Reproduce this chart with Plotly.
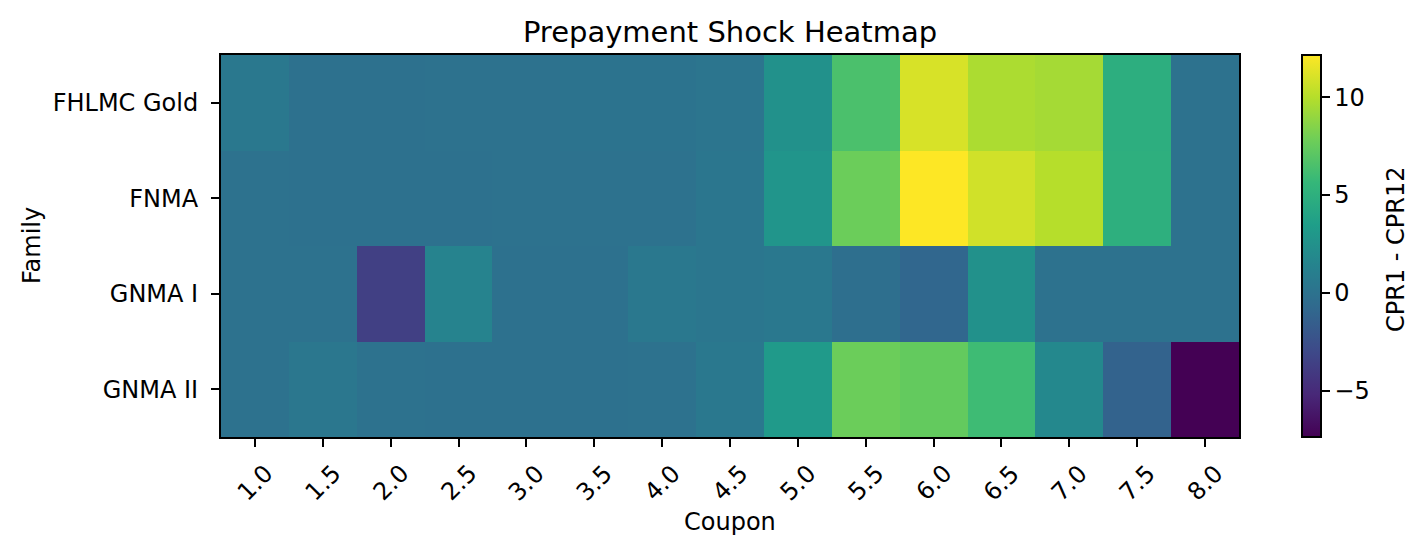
import plotly.graph_objects as go

coupons = ["1.0", "1.5", "2.0", "2.5", "3.0", "3.5", "4.0", "4.5", "5.0", "5.5", "6.0", "6.5", "7.0", "7.5", "8.0"]
families = ["FHLMC Gold", "FNMA", "GNMA I", "GNMA II"]

fhlmc_gold = [0.5, -0.1, -0.1, 0.0, 0.0, 0.1, 0.1, 0.2, 2.5, 6.5, 11.0, 9.7, 9.5, 4.9, 0.0]
fnma = [0.0, -0.1, -0.1, -0.1, 0.0, 0.0, 0.0, 0.3, 2.8, 7.7, 12.15, 10.8, 10.0, 5.0, 0.0]
gnma_i = [0.0, 0.0, -3.6, 1.4, -0.1, -0.1, 0.5, 0.3, 0.5, -0.3, -0.9, 2.5, 0.0, 0.0, 0.0]
gnma_ii = [0.0, 0.4, 0.0, -0.1, -0.1, -0.1, 0.0, 0.5, 3.2, 7.7, 7.4, 6.0, 1.8, -1.2, -7.35]

z = [fhlmc_gold, fnma, gnma_i, gnma_ii]

font = "DejaVu Sans"
FS = 24
fig = go.Figure(go.Heatmap(
    z=z, x=coupons, y=families,
    colorscale="Viridis", zmin=-7.35, zmax=12.15,
    colorbar=dict(
        x=1.0619, xanchor="left", y=0.5, yanchor="middle", len=1, lenmode="fraction",
        thickness=19, xpad=0, ypad=0, outlinewidth=2, outlinecolor="black",
        ticks="outside", ticklen=8, tickwidth=2, tickcolor="black",
        tickvals=[-5, 0, 5, 10], tickfont=dict(size=FS, family=font, color="black"),
    ),
))

annotations = []
for i, c in enumerate(coupons):
    annotations.append(dict(
        x=i, xref="x", y=0, yref="paper", yshift=-21,
        text=c, textangle=-45, showarrow=False, xanchor="center", yanchor="top",
        borderpad=0, font=dict(size=FS, family=font, color="black"),
    ))
annotations.append(dict(
    x=0.5, xref="paper", y=0, yref="paper", yshift=-85,
    text="Coupon", showarrow=False, xanchor="center", yanchor="middle",
    font=dict(size=FS, family=font, color="black"),
))
annotations.append(dict(
    x=0, xref="paper", y=0.5, yref="paper", xshift=-189,
    text="Family", textangle=-90, showarrow=False, xanchor="center", yanchor="middle",
    font=dict(size=FS, family=font, color="black"),
))
annotations.append(dict(
    x=1, xref="paper", y=0.5, yref="paper", xshift=157, yshift=-3,
    text="CPR1 - CPR12", textangle=-90, showarrow=False, xanchor="center", yanchor="middle",
    font=dict(size=FS, family=font, color="black"),
))

fig.update_layout(
    width=1411, height=537,
    margin=dict(l=213, r=180, t=47, b=108),
    paper_bgcolor="white", plot_bgcolor="white",
    title=dict(text="Prepayment Shock Heatmap", x=(213 + 509) / 1411, xanchor="center",
               y=0.955, yanchor="middle", font=dict(size=29, family=font, color="black")),
    font=dict(family=font, color="black"),
    annotations=annotations,
)
fig.update_xaxes(
    showticklabels=False,
    showline=True, linecolor="black", linewidth=2, mirror=True,
    ticks="outside", ticklen=8, tickwidth=2, tickcolor="black",
)
fig.update_yaxes(
    autorange="reversed", tickfont=dict(size=FS, family=font, color="black"),
    ticklabelstandoff=8,
    showline=True, linecolor="black", linewidth=2, mirror=True,
    ticks="outside", ticklen=8, tickwidth=2, tickcolor="black",
)

fig.write_html("out.html")
